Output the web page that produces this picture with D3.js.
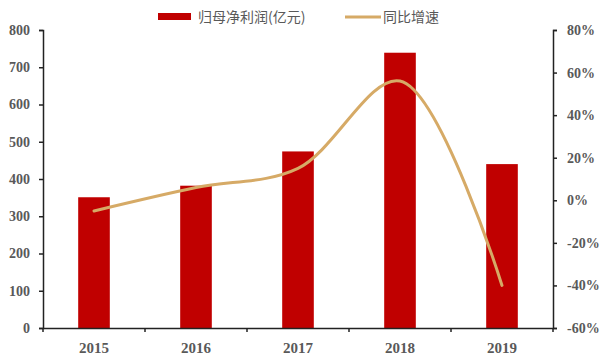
<!DOCTYPE html>
<html>
<head>
<meta charset="utf-8">
<script src="https://cdn.jsdelivr.net/npm/d3@7"></script>
<style>
  body { margin: 0; background: #fff; }
  svg { display: block; }
</style>
</head>
<body>
<div id="chart"></div>
<script>
const years = ['2015', '2016', '2017', '2018', '2019'];
const profit = [351, 382, 474, 739, 440];
const growth = [-5, 6, 15, 56, -40];
const leftTicks = [0, 100, 200, 300, 400, 500, 600, 700, 800];
const rightTicks = [-60, -40, -20, 0, 20, 40, 60, 80];
const barName = '归母净利润(亿元)';
const lineName = '同比增速';

const width = 600;
const height = 358;
const margin = { top: 30, right: 47, bottom: 30, left: 43 };
const barColor = '#C00000';
const lineColor = '#D6AA66';
const labelColor = '#595959';
const axisColor = '#222';
const numFont = '"Liberation Serif", "DejaVu Serif", serif';
const cjkFont = '"Noto Sans CJK SC", sans-serif';

const svg = d3.select('#chart')
  .append('svg')
  .attr('width', width)
  .attr('height', height);

const x = d3.scaleBand()
  .domain(years)
  .range([margin.left, width - margin.right])
  .paddingInner(0.69)
  .paddingOuter(0.345);

const band = d3.scaleBand()
  .domain(years)
  .range([margin.left, width - margin.right]);

const yLeft = d3.scaleLinear()
  .domain([0, 800])
  .range([height - margin.bottom, margin.top]);

const yRight = d3.scaleLinear()
  .domain([-60, 80])
  .range([height - margin.bottom, margin.top]);

// bars
svg.append('g')
  .selectAll('rect')
  .data(profit)
  .join('rect')
  .attr('x', (d, i) => x(years[i]))
  .attr('y', d => yLeft(d))
  .attr('width', x.bandwidth())
  .attr('height', d => yLeft(0) - yLeft(d))
  .attr('fill', barColor);

// growth line
const line = d3.line()
  .x((d, i) => band(years[i]) + band.bandwidth() / 2)
  .y(d => yRight(d))
  .curve(d3.curveCatmullRom.alpha(0.5));

svg.append('path')
  .datum(growth)
  .attr('d', line)
  .attr('fill', 'none')
  .attr('stroke', lineColor)
  .attr('stroke-width', 3)
  .attr('stroke-linecap', 'round');

// axes
const leftAxis = svg.append('g')
  .attr('transform', `translate(${margin.left}, 0)`)
  .call(d3.axisLeft(yLeft).tickValues(leftTicks).tickSize(4).tickPadding(9));

const rightAxis = svg.append('g')
  .attr('transform', `translate(${width - margin.right}, 0)`)
  .call(d3.axisRight(yRight).tickValues(rightTicks).tickSize(4).tickPadding(10)
    .tickFormat(d => d + '%'));

const bottomAxis = svg.append('g')
  .attr('transform', `translate(0, ${height - margin.bottom})`)
  .call(d3.axisBottom(band).tickSize(0).tickPadding(14));

// tick marks at band boundaries on the bottom axis
bottomAxis.append('g')
  .selectAll('line')
  .data(years.concat(['end']))
  .join('line')
  .attr('x1', (d, i) => i < years.length ? band(d) : band.range()[1])
  .attr('x2', (d, i) => i < years.length ? band(d) : band.range()[1])
  .attr('y1', 0)
  .attr('y2', 4)
  .attr('stroke', axisColor)
  .attr('stroke-width', 1.5);

[leftAxis, rightAxis, bottomAxis].forEach(a => {
  a.select('.domain').attr('stroke', axisColor).attr('stroke-width', 1.5);
  a.selectAll('.tick line').attr('stroke', axisColor).attr('stroke-width', 1.5);
  a.selectAll('text')
    .attr('fill', labelColor)
    .style('font-family', numFont)
    .style('font-weight', 'bold')
    .style('font-size', '14px');
});
bottomAxis.selectAll('.tick text').style('font-size', '15px');

// legend
const legend = svg.append('g');
legend.append('rect')
  .attr('x', 158)
  .attr('y', 13)
  .attr('width', 33)
  .attr('height', 7)
  .attr('fill', barColor);
legend.append('text')
  .attr('x', 198)
  .attr('y', 22)
  .style('font-family', cjkFont)
  .style('font-size', '14px')
  .attr('fill', labelColor)
  .text(barName);
legend.append('line')
  .attr('x1', 345)
  .attr('x2', 381)
  .attr('y1', 17)
  .attr('y2', 17)
  .attr('stroke', lineColor)
  .attr('stroke-width', 3);
legend.append('text')
  .attr('x', 383)
  .attr('y', 22)
  .style('font-family', cjkFont)
  .style('font-size', '14px')
  .attr('fill', labelColor)
  .text(lineName);
</script>
</body>
</html>
